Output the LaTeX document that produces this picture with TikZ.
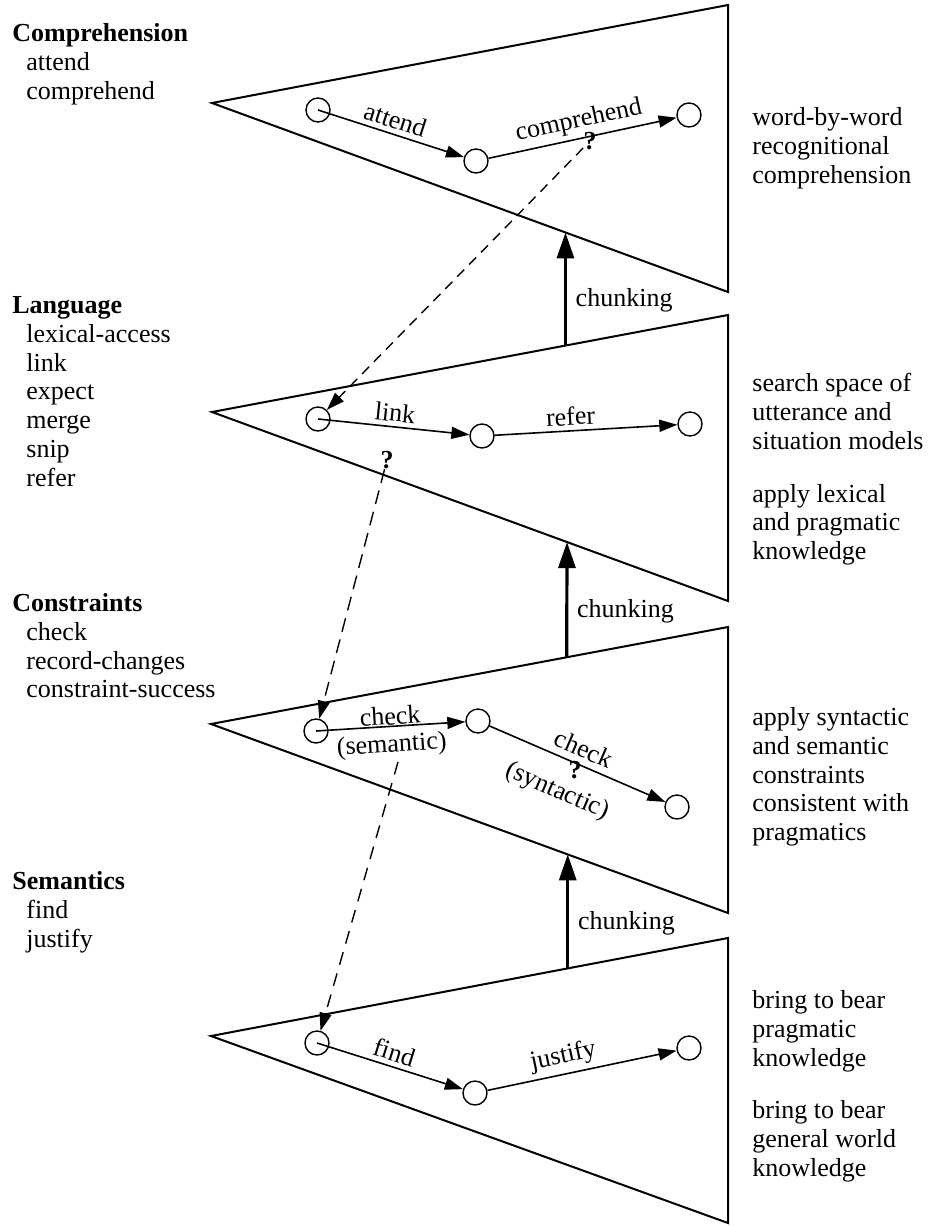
\documentclass[tikz,border=0pt]{standalone}
\usepackage{fontspec}
\setmainfont{Liberation Serif}
\usetikzlibrary{positioning}
\usetikzlibrary{calc}
\usetikzlibrary{arrows.meta}

\begin{document}
\begin{tikzpicture}[
        x=0.5pt, y=-0.5pt,
        every node/.style={font=\fontsize{13}{14.4}\selectfont},
        state/.style={circle, draw, minimum size=12pt, inner sep=0pt, line width=0.7pt},
        layer/.style={draw, line width=1pt},
        op/.style={-{Triangle[length=9pt,width=6pt]}, line width=0.8pt},
        oplbl/.style={midway, sloped, above=-1pt},
        chunk/.style={-{Triangle[length=13pt,width=8.5pt]}, line width=1.6pt},
        impasse/.style={-{Triangle[length=9pt,width=6pt]}, line width=0.7pt, dash pattern=on 7pt off 4pt},
        blurb/.style={align=left, anchor=north west, inner sep=0pt},
    ]
        \useasboundingbox (0,0) rectangle (929,1226);

        % Problem spaces
        \draw[layer] (212,103) coordinate (comp-apex) -- (728,5) coordinate (comp-top) -- (728,292) coordinate (comp-bot) -- cycle;
        \draw[layer] (212,412) coordinate (lang-apex) -- (728,315) coordinate (lang-top) -- (728,601) coordinate (lang-bot) -- cycle;
        \draw[layer] (211,724) coordinate (cons-apex) -- (728,627) coordinate (cons-top) -- (728,913) coordinate (cons-bot) -- cycle;
        \draw[layer] (211,1036) coordinate (sem-apex) -- (728,938) coordinate (sem-top) -- (728,1223) coordinate (sem-bot) -- cycle;

        % Left: space names and operators
        \node[blurb] (comp-ops) at (12,23) {\textbf{Comprehension}\\\hspace*{7pt}attend\\\hspace*{7pt}comprehend};
        \node[blurb] (lang-ops) at (12,296) {\textbf{Language}\\\hspace*{7pt}lexical-access\\\hspace*{7pt}link\\\hspace*{7pt}expect\\\hspace*{7pt}merge\\\hspace*{7pt}snip\\\hspace*{7pt}refer};
        \node[blurb] (cons-ops) at (12,593) {\textbf{Constraints}\\\hspace*{7pt}check\\\hspace*{7pt}record-changes\\\hspace*{7pt}constraint-success};
        \node[blurb] (sem-ops) at (12,871) {\textbf{Semantics}\\\hspace*{7pt}find\\\hspace*{7pt}justify};

        % Right: what each space does
        \node[blurb] (comp-txt) at (752,107) {word-by-word\\recognitional\\comprehension};
        \node[blurb] (lang-txt) at (752,373) {search space of\\utterance and\\situation models\\[12pt]apply lexical\\and pragmatic\\knowledge};
        \node[blurb] (cons-txt) at (752,707) {apply syntactic\\and semantic\\constraints\\consistent with\\pragmatics};
        \node[blurb] (sem-txt) at (752,990) {bring to bear\\pragmatic\\knowledge\\[12pt]bring to bear\\general world\\knowledge};

        % States
        \node[state] (comp-1) at (318,110) {};
        \node[state] (comp-2) at (476,161) {};
        \node[state] (comp-3) at (689,115) {};
        \node[state] (lang-1) at (318,419) {};
        \node[state] (lang-2) at (482,436) {};
        \node[state] (lang-3) at (690,424) {};
        \node[state] (cons-1) at (316,731) {};
        \node[state] (cons-2) at (478,721) {};
        \node[state] (cons-3) at (677,807) {};
        \node[state] (sem-1) at (317,1043) {};
        \node[state] (sem-2) at (475,1093) {};
        \node[state] (sem-3) at (689,1048) {};

        % Operators
        \draw[op] (comp-1.center) -- (comp-2) node[oplbl] {attend};
        \draw[op] (comp-2) -- (comp-3) node[oplbl] {comprehend};
        \draw[op] (lang-1.center) -- (lang-2) node[oplbl] {link};
        \draw[op] (lang-2) -- (lang-3) node[oplbl, pos=0.42] {refer};
        \draw[op] (cons-1.center) -- (cons-2) node[midway, sloped, above=-3pt] {check}
            node[midway, sloped, below] {(semantic)};
        \draw[op] (cons-2) -- (cons-3) node[midway, sloped, above] {check}
            node[pos=0.46, sloped, below=7pt] {(syntactic)};
        \draw[op] (sem-1.center) -- (sem-2) node[oplbl] {find};
        \draw[op] (sem-2) -- (sem-3) node[oplbl, pos=0.42] {justify};

        % Impasses
        \node[inner sep=0pt] (comp-q) at (590,141) {\textbf{?}};
        \node[inner sep=0pt] (lang-q) at (387,460) {\textbf{?}};
        \node[inner sep=0pt] (cons-q) at (575,770) {\textbf{?}};
        \coordinate (cons-imp) at (398,762);
        \draw[impasse, dash pattern=on 5pt off 3.5pt] (comp-q) -- (lang-1);
        \draw[impasse] (lang-q) -- (cons-1);
        \draw[impasse, dash pattern=on 6.5pt off 4.5pt] (cons-imp) -- (sem-1);

        % Chunking
        \coordinate (ch1-base) at ($(lang-apex)!0.685!(lang-top)$);
        \coordinate (ch1-tip) at ($(comp-apex)!0.685!(comp-bot)$);
        \coordinate (ch2-base) at ($(cons-apex)!0.688!(cons-top)$);
        \coordinate (ch2-tip) at ($(lang-apex)!0.688!(lang-bot)$);
        \coordinate (ch3-base) at ($(sem-apex)!0.69!(sem-top)$);
        \coordinate (ch3-tip) at ($(cons-apex)!0.69!(cons-bot)$);
        \draw[chunk] (ch1-base) -- (ch1-tip) node[pos=0.4, right=1pt] (ch1-lbl) {chunking};
        \draw[chunk] (ch2-base) -- (ch2-tip) node[pos=0.4, right=1pt] (ch2-lbl) {chunking};
        \draw[chunk] (ch3-base) -- (ch3-tip) node[pos=0.4, right=1pt] (ch3-lbl) {chunking};
    \end{tikzpicture}
\end{document}
